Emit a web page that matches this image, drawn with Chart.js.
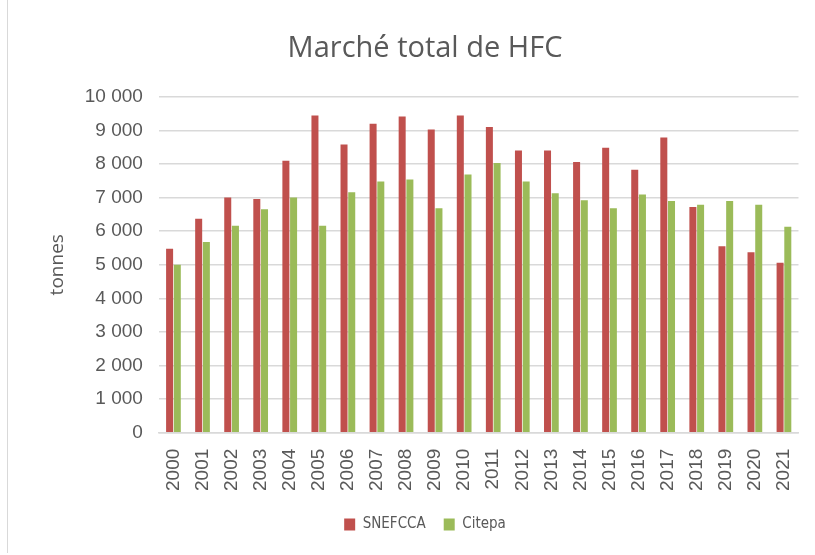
<!DOCTYPE html>
<html>
<head>
<meta charset="utf-8">
<script src="https://cdn.jsdelivr.net/npm/chart.js@4"></script>
<style>
  html, body { margin: 0; padding: 0; background: #fff; }
  .chart { position: relative; width: 815px; height: 555px; }
  .chart::before { content: ""; position: absolute; left: 7px; top: 0; bottom: 2px; border-left: 1px solid #d9d9d9; }
</style>
</head>
<body>
<div class="chart">
  <canvas id="c" width="815" height="555"></canvas>
</div>
<script>
// years on the x axis
const years = ["2000","2001","2002","2003","2004","2005","2006","2007","2008","2009","2010",
  "2011","2012","2013","2014","2015","2016","2017","2018","2019","2020","2021"];

// tonnes
const snefcca = [5480, 6370, 7000, 6960, 8100, 9440, 8580, 9200, 9410, 9030, 9440,
  9100, 8400, 8400, 8060, 8480, 7830, 8790, 6720, 5550, 5370, 5060];
const citepa = [5000, 5680, 6160, 6650, 7000, 6160, 7160, 7480, 7540, 6680, 7690,
  8030, 7480, 7130, 6920, 6680, 7090, 6900, 6790, 6900, 6790, 6130];

const grey = "#595959";
const sans = "'Liberation Sans', sans-serif";

// french thousands separator
function fmt(v) {
  return String(v).replace(/\B(?=(\d{3})+(?!\d))/g, " ");
}

const ctx = document.getElementById("c").getContext("2d");
new Chart(ctx, {
  type: "bar",
  data: {
    labels: years,
    datasets: [
      { label: "SNEFCCA", data: snefcca, backgroundColor: "#c0504d", borderWidth: 0 },
      { label: "Citepa", data: citepa, backgroundColor: "#9bbb59", borderWidth: 0 }
    ]
  },
  options: {
    responsive: false,
    animation: false,
    layout: { padding: { left: 46, right: 11, top: 31, bottom: 13 } },
    datasets: { bar: { categoryPercentage: 0.53, barPercentage: 0.91 } },
    plugins: {
      title: {
        display: true,
        text: "Marché total de HFC",
        color: grey,
        font: { family: "'Open Sans', sans-serif", size: 29, weight: "normal" },
        padding: { top: 0, bottom: 31 }
      },
      legend: {
        position: "bottom",
        labels: {
          color: grey,
          font: { family: "'DejaVu Sans Condensed', " + sans, size: 15 },
          boxWidth: 11, boxHeight: 12, padding: 18
        }
      },
      tooltip: { enabled: false }
    },
    scales: {
      x: {
        grid: { display: false },
        border: { color: "#d9d9d9", width: 1.5 },
        ticks: {
          color: grey, font: { family: sans, size: 19 },
          minRotation: 90, maxRotation: 90, autoSkip: false, padding: 8
        }
      },
      y: {
        min: 0, max: 10000,
        border: { display: false },
        grid: { color: "#d9d9d9", lineWidth: 1.5, drawTicks: false },
        ticks: {
          stepSize: 1000, color: grey, padding: 16,
          font: { family: sans, size: 19 },
          callback: (v) => fmt(v)
        },
        title: {
          display: true, text: "tonnes", color: grey,
          font: { family: "'Open Sans', sans-serif", size: 19 },
          padding: { top: 0, bottom: 0 }
        }
      }
    }
  }
});
</script>
</body>
</html>
